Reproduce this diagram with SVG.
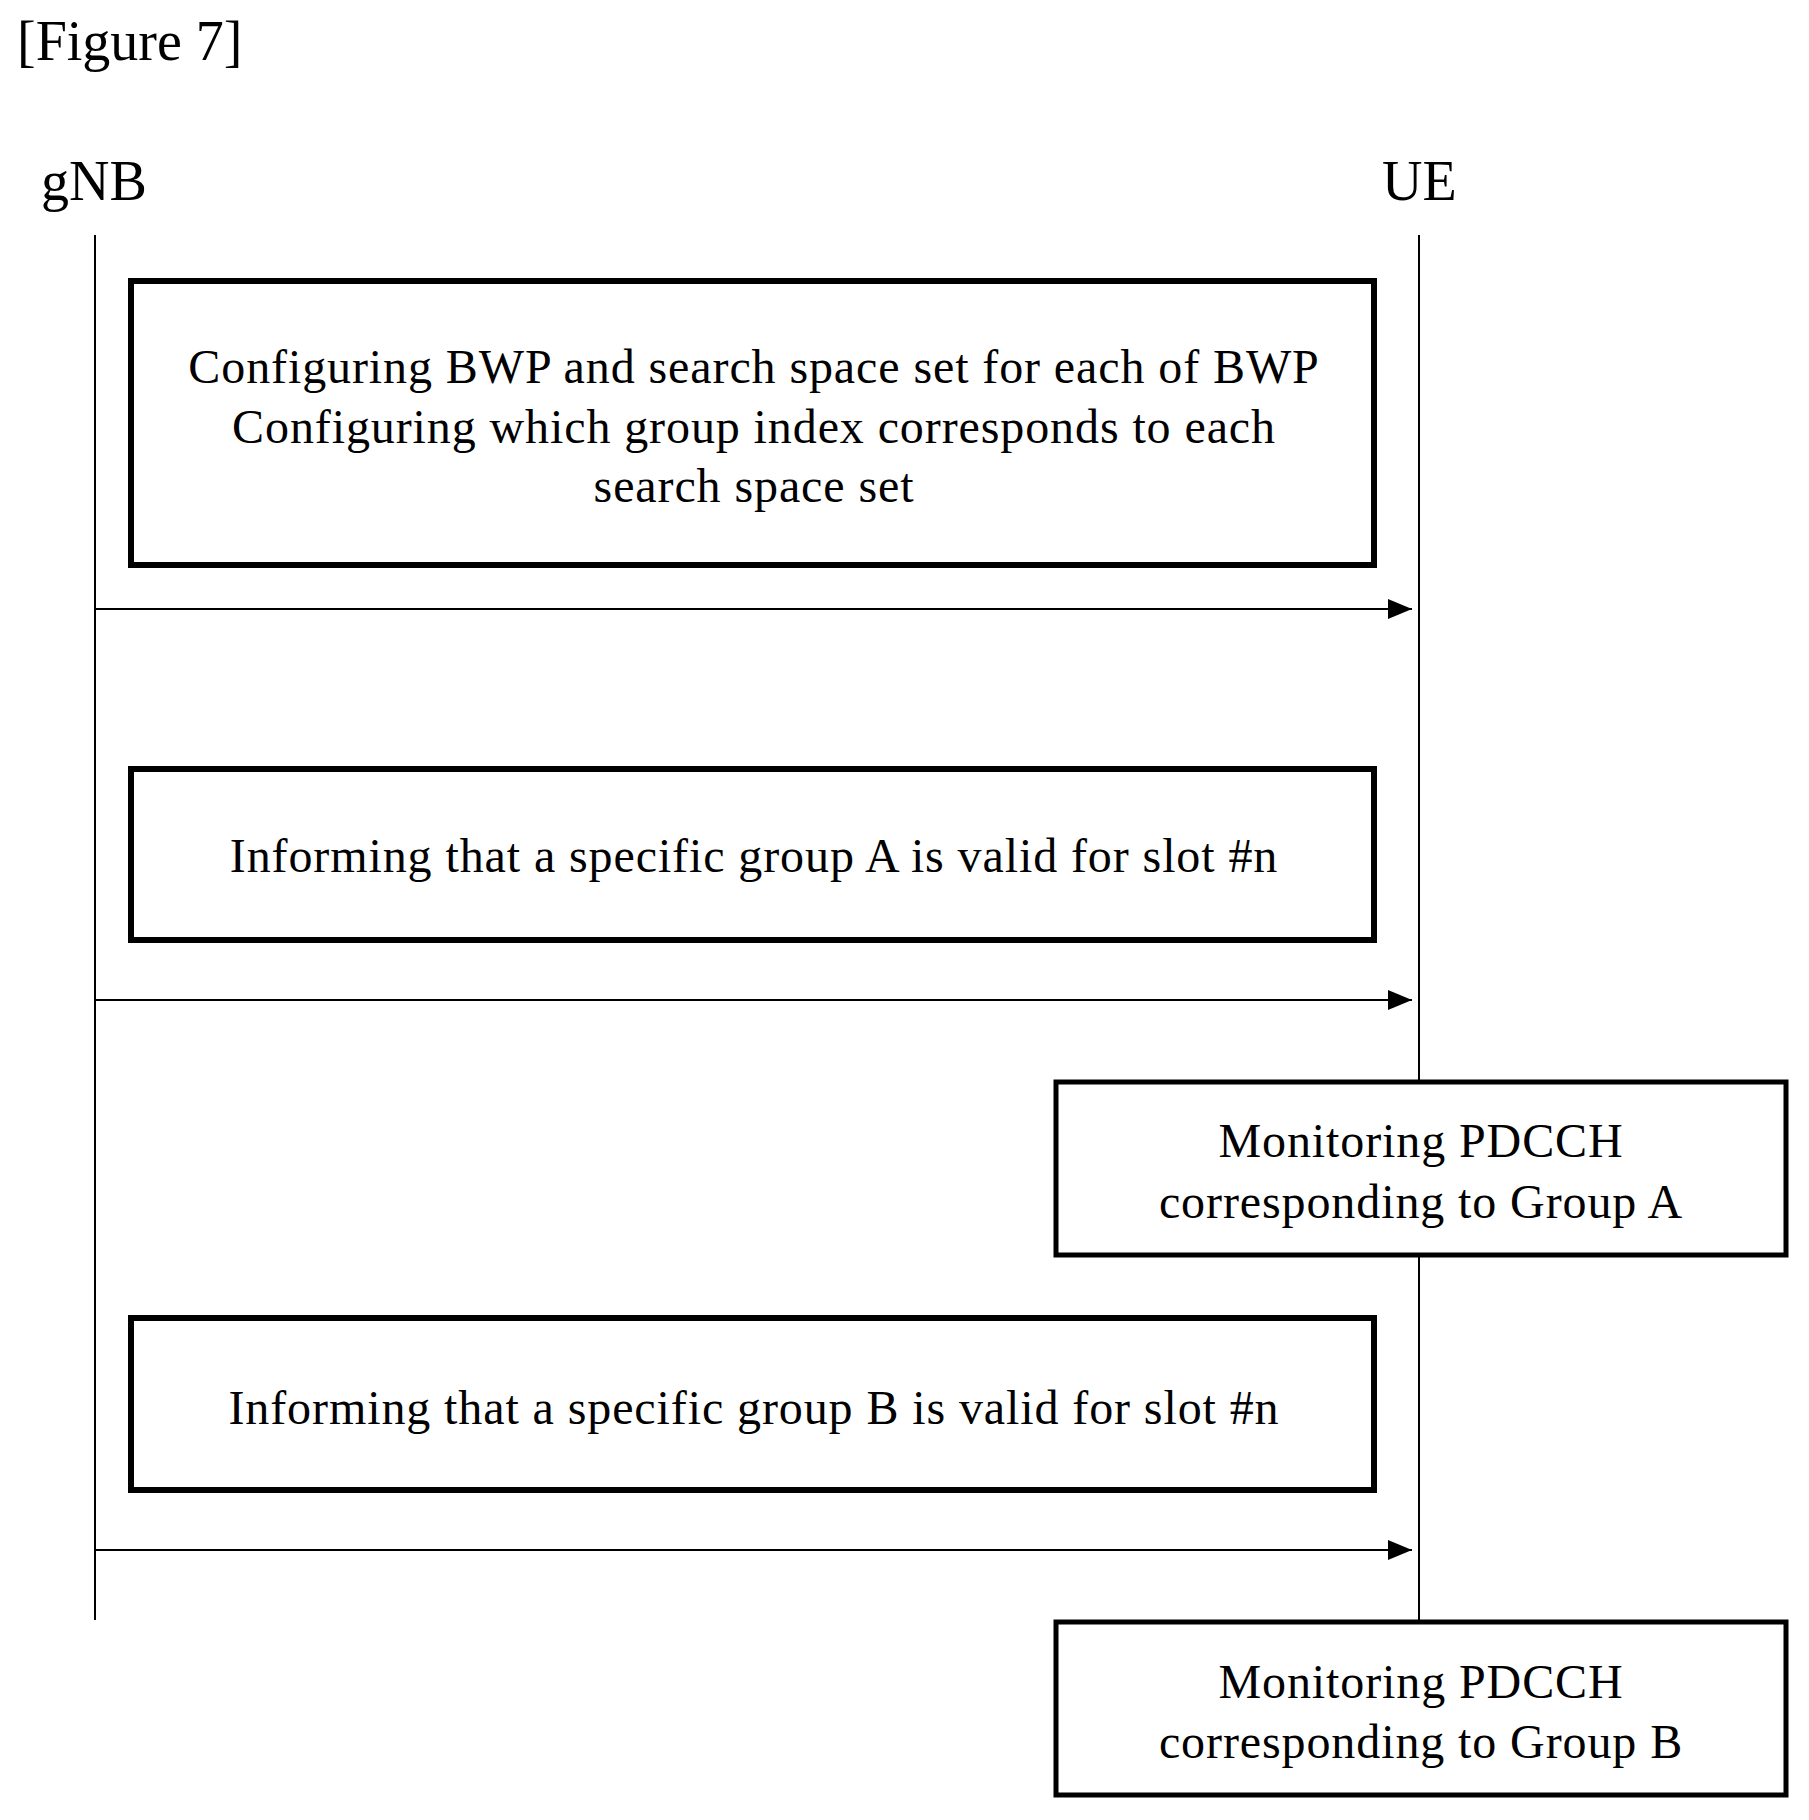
<svg xmlns="http://www.w3.org/2000/svg" width="1809" height="1820" viewBox="0 0 1809 1820">
<style>
text{font-family:"Liberation Serif","Times New Roman",serif;fill:#000}
.t{font-size:48px;letter-spacing:0.9px;text-anchor:middle}
.b{fill:#fff;stroke:#000;stroke-width:6}
.l{stroke:#000;stroke-width:2;fill:none}
</style>
<defs><marker id="a" markerWidth="24" markerHeight="20" refX="24" refY="10" orient="auto" markerUnits="userSpaceOnUse"><path d="M0,0L24,10L0,20z"/></marker></defs>
<rect width="1809" height="1820" fill="#fff"/>
<text x="17" y="60" font-size="56">[Figure 7]</text>
<g id="gNB"><text x="41" y="200" font-size="56">gNB</text><line class="l" x1="95" y1="235" x2="95" y2="1620"/></g>
<g id="UE"><text x="1382" y="200" font-size="56">UE</text><line class="l" x1="1419" y1="235" x2="1419" y2="1622"/></g>
<g id="connectors">
<line class="l" x1="95" y1="609" x2="1412" y2="609" marker-end="url(#a)"/>
<line class="l" x1="95" y1="1000" x2="1412" y2="1000" marker-end="url(#a)"/>
<line class="l" x1="95" y1="1550" x2="1412" y2="1550" marker-end="url(#a)"/>
</g>
<g id="box1"><rect class="b" x="131" y="281" width="1243" height="284"/>
<text class="t" x="754" y="383">Configuring BWP and search space set for each of BWP</text>
<text class="t" x="754" y="443">Configuring which group index corresponds to each</text>
<text class="t" x="754" y="502">search space set</text></g>
<g id="box2"><rect class="b" x="131" y="769" width="1243" height="171"/>
<text class="t" x="754" y="872">Informing that a specific group A is valid for slot #n</text></g>
<g id="box3"><rect class="b" x="1056" y="1082" width="730" height="173" style="stroke-width:5"/>
<text class="t" x="1421" y="1157">Monitoring PDCCH</text>
<text class="t" x="1421" y="1218">corresponding to Group A</text></g>
<g id="box4"><rect class="b" x="131" y="1318" width="1243" height="172"/>
<text class="t" x="754" y="1424">Informing that a specific group B is valid for slot #n</text></g>
<g id="box5"><rect class="b" x="1056" y="1622" width="730" height="173" style="stroke-width:5"/>
<text class="t" x="1421" y="1698">Monitoring PDCCH</text>
<text class="t" x="1421" y="1758">corresponding to Group B</text></g>
</svg>
